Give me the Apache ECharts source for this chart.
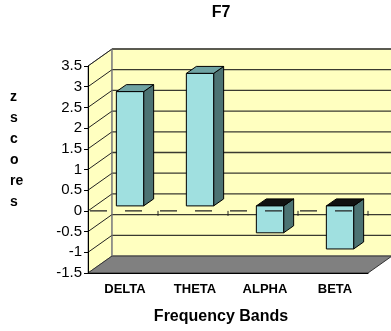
<!DOCTYPE html>
<html>
<head>
<meta charset="utf-8">
<style>
html, body { margin: 0; padding: 0; background: #fff; }
#chart { width: 391px; height: 331px; }
</style>
<script src="https://cdn.jsdelivr.net/npm/echarts@6/dist/echarts.min.js"></script>
</head>
<body>
<div id="chart"></div>
<script>
var bands = ['DELTA', 'THETA', 'ALPHA', 'BETA'];
var zScores = [2.76, 3.2, -0.65, -1.04];
var yTicks = [-1.5, -1, -0.5, 0, 0.5, 1, 1.5, 2, 2.5, 3, 3.5];

var FONT = '"Liberation Sans", Arial, sans-serif';
// depth of the walls (px), bar plane offset and bar depth
var DX = 24, DY = -17;
var BX = 7, BY = -5;
var BDX = 10, BDY = -7;

var chart = echarts.init(document.getElementById('chart'));

function renderWalls(params, api) {
    var cs = params.coordSys;
    var gx = cs.x, gy = cs.y, gw = cs.width, gh = cs.height;
    var children = [];
    var edge = { stroke: '#808080', lineWidth: 1 };
    // left wall
    children.push({ type: 'polygon', shape: { points: [[gx, gy], [gx + DX, gy + DY], [gx + DX, gy + gh + DY], [gx, gy + gh]] },
        style: { fill: '#ffffc0', stroke: '#808080', lineWidth: 1 } });
    // back wall
    children.push({ type: 'polygon', shape: { points: [[gx + DX, gy + DY], [gx + gw + DX, gy + DY], [gx + gw + DX, gy + gh + DY], [gx + DX, gy + gh + DY]] },
        style: { fill: '#ffffc0', stroke: '#808080', lineWidth: 1 } });
    // floor
    children.push({ type: 'polygon', shape: { points: [[gx, gy + gh], [gx + gw, gy + gh], [gx + gw + DX, gy + gh + DY], [gx + DX, gy + gh + DY]] },
        style: { fill: '#808080', stroke: '#333', lineWidth: 1 } });
    // grid lines on the walls
    yTicks.forEach(function (v) {
        if (v === yTicks[0]) return;
        var y = api.coord([0, v])[1];
        children.push({ type: 'line', shape: { x1: gx, y1: y, x2: gx + DX, y2: y + DY }, style: { stroke: '#222', lineWidth: 1 } });
        children.push({ type: 'line', shape: { x1: gx + DX, y1: y + DY, x2: gx + gw + DX, y2: y + DY }, style: { stroke: '#3a3a30', lineWidth: 1.3 } });
    });
    children.push({ type: 'line', shape: { x1: gx + DX, y1: gy + DY, x2: gx + DX, y2: gy + gh + DY }, style: edge });
    return { type: 'group', children: children };
}

function renderBar(params, api) {
    var idx = api.value(0), val = api.value(1);
    var p = api.coord([idx, val]);
    var base = api.coord([idx, 0]);
    var bw = api.size([1, 0])[0];
    var w = bw * 0.39;
    var x0 = p[0] + BX - w / 2;
    var yTop = Math.min(p[1], base[1]) + BY;
    var yBot = Math.max(p[1], base[1]) + BY;
    var line = { stroke: '#000', lineWidth: 1 };
    return {
        type: 'group',
        children: [
            { type: 'polygon', shape: { points: [[x0 + w, yTop], [x0 + w + BDX, yTop + BDY], [x0 + w + BDX, yBot + BDY], [x0 + w, yBot]] },
                style: Object.assign({ fill: '#4d7373' }, line) },
            { type: 'polygon', shape: { points: [[x0, yTop], [x0 + BDX, yTop + BDY], [x0 + w + BDX, yTop + BDY], [x0 + w, yTop]] },
                style: Object.assign({ fill: val >= 0 ? '#6fa3a3' : '#111' }, line) },
            { type: 'rect', shape: { x: x0, y: yTop, width: w, height: yBot - yTop },
                style: Object.assign({ fill: '#a0e0e0' }, line) }
        ]
    };
}

function renderZero(params, api) {
    var cs = params.coordSys;
    var y = api.coord([0, 0])[1];
    var bw = cs.width / bands.length;
    var children = [{ type: 'line', shape: { x1: cs.x + 2, y1: y, x2: cs.x + cs.width, y2: y },
        style: { stroke: '#222', lineWidth: 1.3, lineDash: [17, 18] } }];
    for (var i = 1; i <= bands.length; i++) {
        children.push({ type: 'line', shape: { x1: cs.x + i * bw, y1: y, x2: cs.x + i * bw, y2: y + 5 },
            style: { stroke: '#222', lineWidth: 1 } });
    }
    return { type: 'group', children: children };
}

var option = {
    animation: false,
    grid: { left: 88, right: 23, top: 66, height: 207 },
    xAxis: {
        type: 'category',
        data: bands,
        z: 5,
        axisLine: { onZero: false, lineStyle: { color: '#000', width: 1 } },
        axisTick: { length: 5, lineStyle: { color: '#000' } },
        axisLabel: { color: '#000', fontFamily: FONT, fontWeight: 'bold', fontSize: 13, margin: 10, padding: [0, 0, 0, 4] },
        splitLine: { show: false }
    },
    yAxis: {
        type: 'value',
        min: -1.5,
        max: 3.5,
        interval: 0.5,
        z: 5,
        axisLine: { show: true, lineStyle: { color: '#000', width: 1 } },
        axisTick: { show: true, length: 4, lineStyle: { color: '#000' } },
        axisLabel: { color: '#000', fontFamily: FONT, fontSize: 15, margin: 6 },
        splitLine: { show: false }
    },
    graphic: [
        { type: 'text', x: 221, y: 13, style: { text: 'F7', font: 'bold 16px ' + FONT, fill: '#000', align: 'center', verticalAlign: 'middle' } },
        { type: 'text', x: 221, y: 317, style: { text: 'Frequency Bands', font: 'bold 16px ' + FONT, fill: '#000', align: 'center', verticalAlign: 'middle' } },
        { type: 'text', x: 10, y: 87, style: { text: 'z\ns\nc\no\nre\ns', font: 'bold 14px ' + FONT, lineHeight: 21, fill: '#000' } }
    ],
    series: [
        { type: 'custom', name: 'walls', z: 1, silent: true, data: [[0, 0]], renderItem: renderWalls },
        { type: 'custom', name: 'z scores', z: 2, data: zScores.map(function (v, i) { return [i, v]; }), renderItem: renderBar },
        { type: 'custom', name: 'zero', z: 3, silent: true, data: [[0, 0]], renderItem: renderZero }
    ]
};

chart.setOption(option);
window.addEventListener('resize', function () {
    chart.resize();
});
</script>
</body>
</html>
